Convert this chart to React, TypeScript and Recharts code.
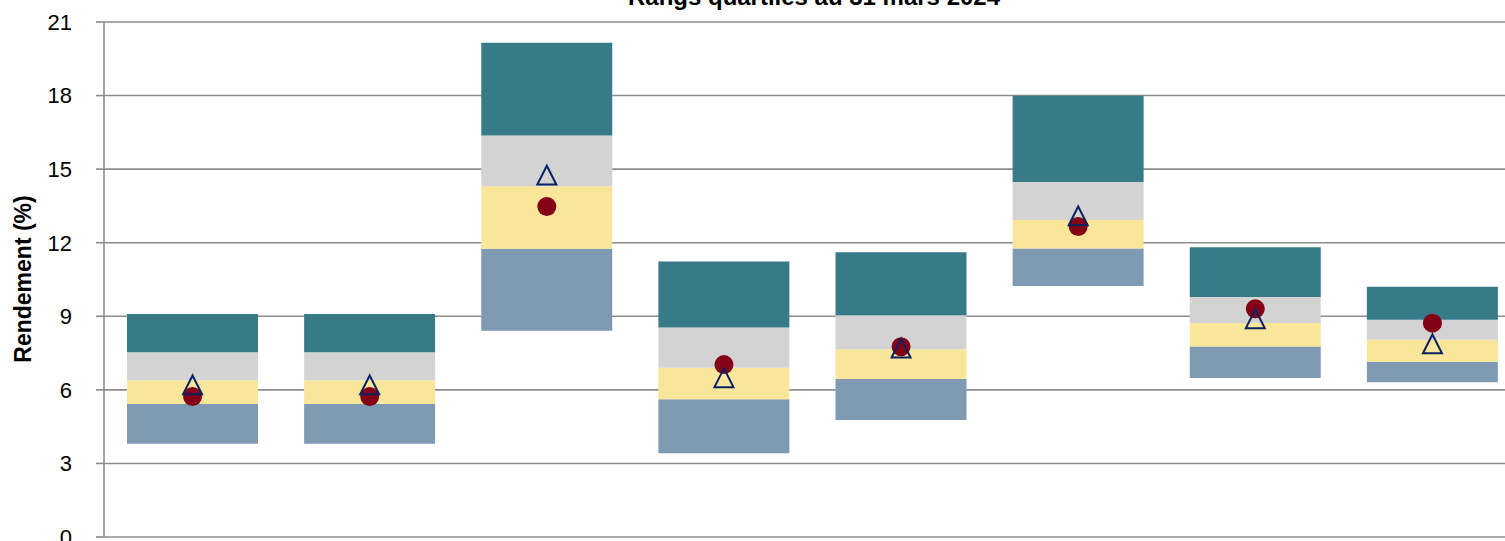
import React from 'react';
import { ComposedChart, Bar, Line, XAxis, YAxis, CartesianGrid } from 'recharts';

const categories = ['A', 'B', 'C', 'D', 'E', 'F', 'G', 'H'];
// quartile boundaries (bottom -> top)
const p95 = [3.8, 3.8, 8.41, 3.41, 4.77, 10.23, 6.48, 6.31];
const p75 = [5.42, 5.42, 11.75, 5.62, 6.44, 11.76, 7.77, 7.15];
const p50 = [6.39, 6.39, 14.3, 6.9, 7.66, 12.93, 8.73, 8.04];
const p25 = [7.53, 7.53, 16.37, 8.54, 9.04, 14.48, 9.79, 8.86];
const p5 = [9.09, 9.09, 20.15, 11.23, 11.61, 17.99, 11.82, 10.2];
const fundReturn = [5.73, 5.73, 13.48, 7.03, 7.76, 12.66, 9.31, 8.72];
const benchmark = [6.2, 6.2, 14.75, 6.49, 7.7, 13.09, 8.89, 7.87];
const yTicks = [0, 3, 6, 9, 12, 15, 18, 21];

const data = categories.map((name, i) => ({
  name,
  base: p95[i],
  q4: +(p75[i] - p95[i]).toFixed(3),
  q3: +(p50[i] - p75[i]).toFixed(3),
  q2: +(p25[i] - p50[i]).toFixed(3),
  q1: +(p5[i] - p25[i]).toFixed(3),
  fund: fundReturn[i],
  bench: benchmark[i],
}));

const FONT = '"Liberation Sans", Arial, sans-serif';

const CircleDot = (props: any) => {
  const { cx, cy, index } = props;
  if (cx == null || cy == null) return <g key={`c${index}`} />;
  return <circle key={`c${index}`} cx={cx} cy={cy} r={9.5} fill="#840017" />;
};

const TriDot = (props: any) => {
  const { cx, cy, index } = props;
  if (cx == null || cy == null) return <g key={`t${index}`} />;
  const pts = `${cx},${cy - 9.5} ${cx - 9.5},${cy + 9.3} ${cx + 9.5},${cy + 9.3}`;
  return (
    <polygon key={`t${index}`} points={pts} fill="none" stroke="#0B2161" strokeWidth={2} strokeLinejoin="miter" />
  );
};

const YLabel = () => (
  <text
    x={23}
    y={279}
    transform="rotate(-90, 23, 279)"
    textAnchor="middle"
    dominantBaseline="central"
    fontFamily={FONT}
    fontWeight={700}
    fontSize={23}
    fill="#000"
  >
    Rendement (%)
  </text>
);

export default function App() {
  return (
    <div style={{ position: 'fixed', left: 0, top: 0, width: 1505, height: 541, overflow: 'hidden', background: '#fff' }}>
      <ComposedChart
        width={1530}
        height={541}
        data={data}
        margin={{ top: 22, right: 9, bottom: 4, left: 0 }}
        barSize={131}
      >
        <CartesianGrid vertical={false} stroke="#8c8c8c" strokeWidth={1.6} />
        <XAxis
          dataKey="name"
          tick={false}
          tickLine={false}
          axisLine={{ stroke: '#8c8c8c', strokeWidth: 1.6 }}
          height={0}
        />
        <YAxis
          domain={[0, 21]}
          ticks={yTicks}
          interval={0}
          width={104}
          tickSize={8}
          tickMargin={24}
          tickLine={{ stroke: '#8c8c8c', strokeWidth: 1.6 }}
          axisLine={{ stroke: '#8c8c8c', strokeWidth: 1.6 }}
          tick={{ fontFamily: FONT, fontSize: 22, fill: '#000' }}
          label={<YLabel />}
        />
        <Bar dataKey="base" stackId="s" fill="transparent" isAnimationActive={false} />
        <Bar dataKey="q4" stackId="s" fill="#7F9BB3" isAnimationActive={false} />
        <Bar dataKey="q3" stackId="s" fill="#F9E69A" isAnimationActive={false} />
        <Bar dataKey="q2" stackId="s" fill="#D3D3D3" isAnimationActive={false} />
        <Bar dataKey="q1" stackId="s" fill="#377B89" isAnimationActive={false} />
        <Line dataKey="fund" stroke="none" dot={CircleDot} activeDot={false} isAnimationActive={false} legendType="none" />
        <Line dataKey="bench" stroke="none" dot={TriDot} activeDot={false} isAnimationActive={false} legendType="none" />
      </ComposedChart>
      <svg width={1505} height={30} style={{ position: 'absolute', left: 0, top: 0 }}>
        <text
          x={814}
          y={5}
          textAnchor="middle"
          fontFamily={FONT}
          fontWeight={700}
          fontSize={23}
          textLength={372}
          lengthAdjust="spacingAndGlyphs"
          fill="#000"
        >
          Rangs quartiles au 31 mars 2024
        </text>
      </svg>
    </div>
  );
}
